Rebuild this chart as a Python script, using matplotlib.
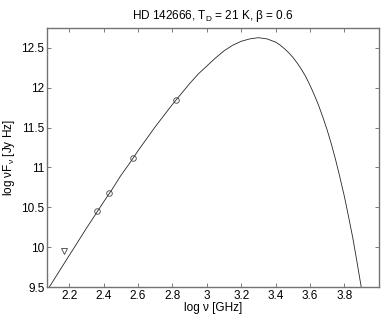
import matplotlib
matplotlib.use('Agg')
import matplotlib.pyplot as plt
from matplotlib.ticker import FuncFormatter

plt.rcParams['font.family'] = ['Liberation Sans', 'DejaVu Sans']
plt.rcParams['mathtext.fontset'] = 'custom'
plt.rcParams['mathtext.rm'] = 'Liberation Sans'
plt.rcParams['mathtext.it'] = 'Liberation Sans'

# model curve
curve_x = [2.08, 2.15, 2.2, 2.3, 2.4, 2.45, 2.5, 2.55, 2.6, 2.65, 2.7, 2.75, 2.8,
           2.85, 2.9, 2.95, 3.0, 3.05, 3.1, 3.15, 3.2, 3.25, 3.3, 3.35, 3.4,
           3.425, 3.45, 3.475, 3.5, 3.525, 3.55, 3.575, 3.6, 3.625, 3.65, 3.675,
           3.7, 3.725, 3.75, 3.775, 3.8, 3.825, 3.85, 3.875, 3.9]
curve_y = [9.49, 9.73, 9.90, 10.24, 10.57, 10.73, 10.90, 11.05, 11.21, 11.36,
           11.51, 11.65, 11.79, 11.92, 12.05, 12.17, 12.27, 12.37, 12.46, 12.53,
           12.58, 12.61, 12.625, 12.61, 12.57, 12.535, 12.49, 12.44, 12.38,
           12.31, 12.23, 12.14, 12.03, 11.91, 11.78, 11.63, 11.47, 11.29, 11.09,
           10.87, 10.64, 10.38, 10.11, 9.80, 9.48]

# measurements (circles) and upper limit (triangle)
det_x = [2.36, 2.433, 2.571, 2.822]
det_y = [10.45, 10.68, 11.115, 11.848]
lim_x = [2.171]
lim_y = [9.96]

fig = plt.figure(figsize=(3.82, 3.17), dpi=100)
ax = fig.add_axes([0.1238, 0.0937, 0.8676, 0.8189])

ax.plot(curve_x, curve_y, color='0.15', lw=0.6)
ax.plot(det_x, det_y, 'o', mfc='none', mec='0.25', ms=4, mew=0.6)
ax.plot(lim_x, lim_y, 'v', mfc='none', mec='0.25', ms=4.5, mew=0.6)

ax.set_xlim(2.072, 4.0)
ax.set_ylim(9.5, 12.75)
ax.set_xticks([2.2, 2.4, 2.6, 2.8, 3.0, 3.2, 3.4, 3.6, 3.8])
ax.set_yticks([9.5, 10, 10.5, 11, 11.5, 12, 12.5])
fmt = FuncFormatter(lambda v, p: '%g' % v)
ax.xaxis.set_major_formatter(fmt)
ax.yaxis.set_major_formatter(fmt)
ax.tick_params(direction='in', length=3, width=0.6, color='0.4',
               top=True, right=True, labelsize=8.5, pad=2)
for s in ax.spines.values():
    s.set_color('0.45')
    s.set_linewidth(1.0)

ax.set_title('HD 142666, T$_\\mathregular{D}$ = 21 K, β = 0.6', fontsize=8.5, pad=6)
ax.set_xlabel('log ν [GHz]', fontsize=8.5, labelpad=0)
ax.set_ylabel('log νF$_\\mathregular{ν}$ [Jy Hz]', fontsize=8.5, labelpad=3)

fig.savefig('out.png', dpi=100)
